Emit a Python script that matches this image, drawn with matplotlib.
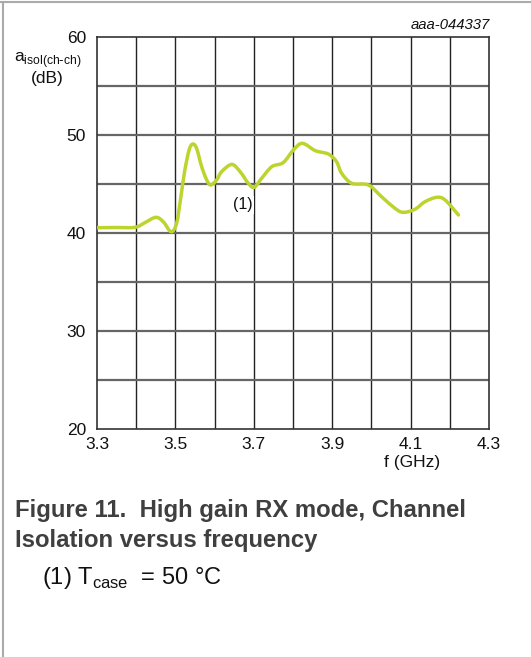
import matplotlib
matplotlib.use("Agg")
import matplotlib.pyplot as plt
import numpy as np
from matplotlib.lines import Line2D
from matplotlib.path import Path
from matplotlib.patches import PathPatch

plt.rcParams['font.family'] = ['Liberation Sans', 'DejaVu Sans']

freq_ghz = [3.300, 3.350, 3.397, 3.422, 3.450, 3.469, 3.489, 3.503, 3.514, 3.524,
            3.535, 3.544, 3.554, 3.567, 3.580, 3.590, 3.605, 3.618, 3.644, 3.665,
            3.686, 3.701, 3.720, 3.746, 3.775, 3.801, 3.824, 3.857, 3.890, 3.911,
            3.924, 3.950, 3.992, 4.026, 4.060, 4.081, 4.111, 4.137, 4.167, 4.188,
            4.222]
isol_db = [40.54, 40.56, 40.58, 41.05, 41.60, 41.15, 40.13, 40.98, 43.70, 46.40,
           48.47, 49.08, 48.64, 46.77, 45.40, 44.90, 45.40, 46.26, 47.00, 46.26,
           45.07, 44.66, 45.58, 46.77, 47.18, 48.47, 49.15, 48.40, 48.06, 47.28,
           46.10, 45.07, 44.90, 43.70, 42.52, 42.11, 42.42, 43.20, 43.64, 43.37,
           41.84]

x_ticks = [3.3, 3.5, 3.7, 3.9, 4.1, 4.3]
x_tick_labels = ["3.3", "3.5", "3.7", "3.9", "4.1", "4.3"]
y_ticks = [20, 30, 40, 50, 60]
y_tick_labels = ["20", "30", "40", "50", "60"]

fig = plt.figure(figsize=(5.31, 6.57), dpi=100)
ax = fig.add_axes([97/531, 1 - 429/657, 392/531, 392/657])
ax.set_xlim(3.3, 4.3)
ax.set_ylim(20, 60)

# grid
for i in range(1, 10):
    ax.axvline(3.3 + i * 0.1, color='#222222', lw=1.0, zorder=1)
for i in range(1, 8):
    ax.axhline(20 + i * 5, color='#666666', lw=1.6, zorder=1)
for s in ax.spines.values():
    s.set_color('#333333')
    s.set_linewidth(1.2)

# smooth curve through the read points (Catmull-Rom -> cubic Bezier)
P = np.column_stack([freq_ghz, isol_db])
Pext = np.vstack([P[0], P, P[-1]])
verts = [tuple(P[0])]
codes = [Path.MOVETO]
for i in range(1, len(Pext) - 2):
    p0, p1, p2, p3 = Pext[i - 1], Pext[i], Pext[i + 1], Pext[i + 2]
    c1 = p1 + (p2 - p0) / 6.0
    c2 = p2 - (p3 - p1) / 6.0
    verts += [tuple(c1), tuple(c2), tuple(p2)]
    codes += [Path.CURVE4] * 3
ax.add_patch(PathPatch(Path(verts, codes), facecolor='none', edgecolor='#BDD42E',
                       lw=2.5, capstyle='round', joinstyle='round', zorder=3))

ax.set_xticks(x_ticks)
ax.set_xticklabels(x_tick_labels)
ax.set_yticks(y_ticks)
ax.set_yticklabels(y_tick_labels)
ax.tick_params(axis='both', length=0, labelsize=12.5, colors='#111111')
ax.tick_params(axis='x', pad=6)
ax.tick_params(axis='y', pad=8)

ax.text(3.697, 42.9, "(1)", fontsize=11.5, ha='right', va='center', color='#111111',
        bbox=dict(facecolor='white', edgecolor='none', pad=1.0), zorder=2)

# axis labels
fig.text(48/531, 1 - 60/657, r"a$_{\mathregular{isol(ch\text{-}ch)}}$", fontsize=12.5,
         ha='center', va='center', color='#111111')
fig.text(47/531, 1 - 78/657, "(dB)", fontsize=12.5, ha='center', va='center', color='#111111')
fig.text(412/531, 1 - 463/657, "f (GHz)", fontsize=12.5, ha='center', va='center', color='#111111')
fig.text(490/531, 1 - 25/657, "aaa-044337", fontsize=10.7, style='italic',
         ha='right', va='center', color='#111111')

# caption
fig.text(15/531, 1 - 510/657, "Figure 11.  High gain RX mode, Channel", fontsize=17.2,
         fontweight='bold', ha='left', va='center', color='#3f3f3f')
fig.text(15/531, 1 - 540/657, "Isolation versus frequency", fontsize=17.2,
         fontweight='bold', ha='left', va='center', color='#3f3f3f')
fig.text(42/531, 1 - 578/657, r"(1) T$_{\mathregular{case}}$  = 50 °C", fontsize=17,
         ha='left', va='center', color='#111111')

# page frame lines
fig.add_artist(Line2D([0, 1], [1 - 2/657, 1 - 2/657], transform=fig.transFigure,
                      color='#aaaaaa', lw=1.5))
fig.add_artist(Line2D([3/531, 3/531], [0, 1 - 2/657], transform=fig.transFigure,
                      color='#aaaaaa', lw=1.5))

fig.savefig("out.png", dpi=100)
